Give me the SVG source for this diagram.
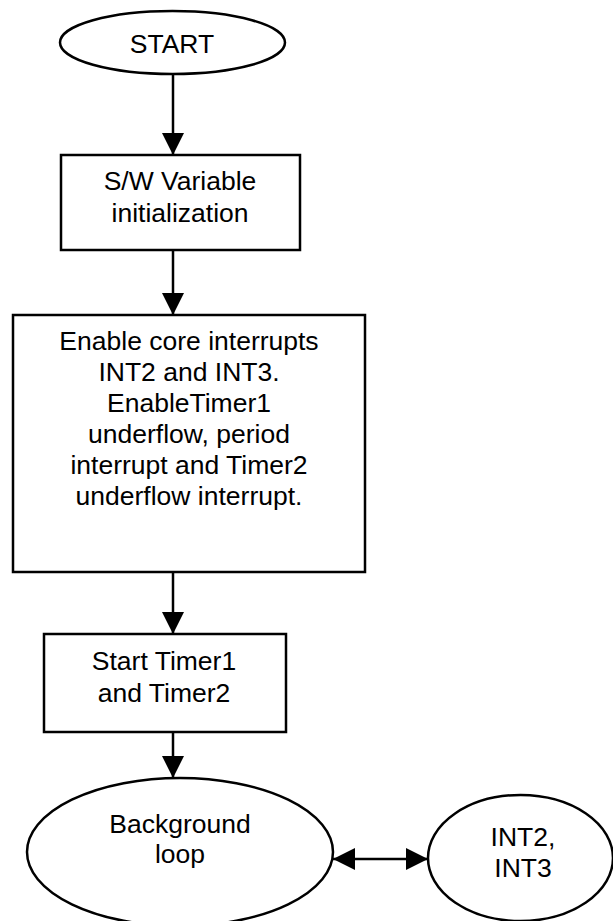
<svg xmlns="http://www.w3.org/2000/svg" width="613" height="921" viewBox="0 0 613 921">
<defs>
<style>
.shape{fill:#fff;stroke:#000;stroke-width:2.5}
.lbl{font-family:"Liberation Sans",Arial,sans-serif;font-size:26.5px;fill:#000;text-anchor:middle}
.conn{stroke:#000;stroke-width:2.5;fill:none}
</style>
<marker id="ah" viewBox="0 0 22 22" refX="22" refY="11" markerWidth="22" markerHeight="22" markerUnits="userSpaceOnUse" orient="auto">
<path d="M0,0 L22,11 L0,22 Z" fill="#000"/>
</marker>
<marker id="ahs" viewBox="0 0 22 22" refX="22" refY="11" markerWidth="22" markerHeight="22" markerUnits="userSpaceOnUse" orient="auto-start-reverse">
<path d="M0,0 L22,11 L0,22 Z" fill="#000"/>
</marker>
</defs>
<rect width="613" height="921" fill="#fff"/>
<g id="connectors">
<line class="conn" x1="173" y1="74" x2="173" y2="155" marker-end="url(#ah)"/>
<line class="conn" x1="173" y1="250" x2="173" y2="315" marker-end="url(#ah)"/>
<line class="conn" x1="173" y1="572" x2="173" y2="634" marker-end="url(#ah)"/>
<line class="conn" x1="173" y1="732" x2="173" y2="778" marker-end="url(#ah)"/>
<line class="conn" x1="333" y1="859" x2="428" y2="859" marker-start="url(#ahs)" marker-end="url(#ah)"/>
</g>
<g id="start">
<ellipse class="shape" cx="172.5" cy="42.5" rx="112.5" ry="31.5"/>
<text class="lbl" x="172" y="53">START</text>
</g>
<g id="init">
<rect class="shape" x="61" y="155" width="239" height="95"/>
<text class="lbl" x="180" y="190">S/W Variable</text>
<text class="lbl" x="180" y="222">initialization</text>
</g>
<g id="enable">
<rect class="shape" x="13" y="315" width="352" height="257"/>
<text class="lbl" x="189" y="350">Enable core interrupts</text>
<text class="lbl" x="189" y="381">INT2 and INT3.</text>
<text class="lbl" x="189" y="412">EnableTimer1</text>
<text class="lbl" x="189" y="443">underflow, period</text>
<text class="lbl" x="189" y="474">interrupt and Timer2</text>
<text class="lbl" x="189" y="505">underflow interrupt.</text>
</g>
<g id="starttimers">
<rect class="shape" x="44" y="634" width="242" height="98"/>
<text class="lbl" x="164" y="670">Start Timer1</text>
<text class="lbl" x="164" y="702">and Timer2</text>
</g>
<g id="background">
<ellipse class="shape" cx="180" cy="852" rx="153" ry="74"/>
<text class="lbl" x="180" y="833">Background</text>
<text class="lbl" x="180" y="863">loop</text>
</g>
<g id="ints">
<ellipse class="shape" cx="520.5" cy="858" rx="92.5" ry="63"/>
<text class="lbl" x="523" y="846">INT2,</text>
<text class="lbl" x="523" y="877">INT3</text>
</g>
</svg>
